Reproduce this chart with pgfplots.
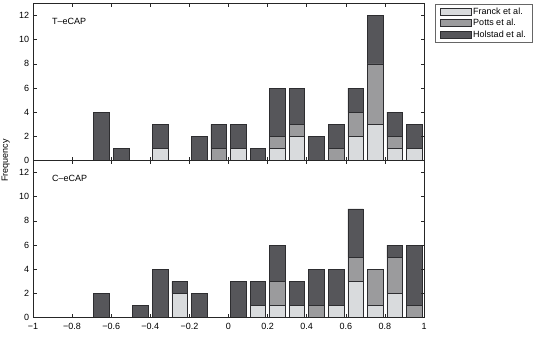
\documentclass[border=0pt]{standalone}
\usepackage{fontspec}
\setmainfont{Liberation Sans}
\usepackage{pgfplots}
\pgfplotsset{compat=1.18}
\usepackage{pgfplotstable}

\definecolor{franck}{RGB}{217,219,221}
\definecolor{potts}{RGB}{155,155,157}
\definecolor{holstad}{RGB}{86,86,90}
\definecolor{edge}{RGB}{45,45,48}

% Counts per correlation bin (bin centres, width 0.1)
\pgfplotstableread{
x      F P H
-0.95  0 0 0
-0.85  0 0 0
-0.75  0 0 0
-0.65  0 0 4
-0.55  0 0 1
-0.45  0 0 0
-0.35  1 0 2
-0.25  0 0 0
-0.15  0 0 2
-0.05  0 1 2
0.05   1 0 2
0.15   0 0 1
0.25   1 1 4
0.35   2 1 3
0.45   0 0 2
0.55   0 1 2
0.65   2 2 2
0.75   3 5 4
0.85   1 1 2
0.95   1 0 2
}\teCAP

\pgfplotstableread{
x      F P H
-0.95  0 0 0
-0.85  0 0 0
-0.75  0 0 0
-0.65  0 0 2
-0.55  0 0 0
-0.45  0 0 1
-0.35  0 0 4
-0.25  2 0 1
-0.15  0 0 2
-0.05  0 0 0
0.05   0 0 3
0.15   1 0 2
0.25   1 2 3
0.35   1 0 2
0.45   0 1 3
0.55   1 0 3
0.65   3 2 4
0.75   1 3 0
0.85   2 3 1
0.95   0 1 5
}\ceCAP

\newcommand{\lblfont}{\fontsize{9}{10}\selectfont}

\pgfplotsset{
  hist/.style={
    scale only axis, width=391pt, height=157pt,
    xmin=-1, xmax=1, ymin=0, ymax=13,
    ybar stacked, bar width=0.08,
    xtick={-1,-0.8,-0.6,-0.4,-0.2,0,0.2,0.4,0.6,0.8,1},
    ytick={0,2,4,6,8,10,12},
    tick align=inside, major tick length=3.5pt,
    axis line style={line width=0.5pt, black!85},
    every tick/.style={line width=0.5pt, black!85},
    axis on top,
    tick label style={font=\lblfont},
    /pgf/number format/assume math mode=true,
    yticklabel style={inner sep=0pt, xshift=-3.7pt},
    xticklabel style={inner sep=0pt, yshift=-5.6pt},
  },
  seg/.style={fill=#1, draw=edge, line width=0.5pt,
    legend image code/.code={\draw[##1] (0pt,-3.5pt) rectangle (31pt,3.5pt);}},
}

\begin{document}
\begin{tikzpicture}
\path[use as bounding box] (0pt,0pt) rectangle (540pt,-340pt);

% T-eCAP panel
\begin{axis}[hist, at={(33pt,-160.5pt)}, anchor=south west,
    xticklabels={},
    legend cell align=left,
    legend style={at={(1.0281,0.995)}, anchor=north west,
      draw=black!60, line width=0.5pt, inner xsep=4.7pt, inner ysep=1.2pt,
      nodes={inner sep=1.8pt, text depth=0.15em}, font=\lblfont},
  ]
  \addplot[seg=franck]  table[x=x, y=F] {\teCAP};
  \addplot[seg=potts]   table[x=x, y=P] {\teCAP};
  \addplot[seg=holstad] table[x=x, y=H] {\teCAP};
  \addlegendentry{\makebox[53pt][l]{Franck et al.}}
  \addlegendentry{\makebox[53pt][l]{Potts et al.}}
  \addlegendentry{\makebox[53pt][l]{Holstad et al.}}
  \node[anchor=west, inner sep=0pt, font=\lblfont] at (axis cs:-0.903,11.5) {T–eCAP};
\end{axis}

% C-eCAP panel
\begin{axis}[hist, at={(33pt,-160.5pt)}, anchor=north west,
    xticklabels={−1,−0.8,−0.6,−0.4,−0.2,0,0.2,0.4,0.6,0.8,1},
  ]
  \addplot[seg=franck]  table[x=x, y=F] {\ceCAP};
  \addplot[seg=potts]   table[x=x, y=P] {\ceCAP};
  \addplot[seg=holstad] table[x=x, y=H] {\ceCAP};
  \node[anchor=west, inner sep=0pt, font=\lblfont] at (axis cs:-0.903,11.5) {C–eCAP};
  \node[anchor=north, inner sep=0pt, font=\lblfont] at (rel axis cs:0.5,0) [yshift=-13pt] {Correlation coefficient (\textit{r})};
\end{axis}

\node[rotate=90, anchor=base, inner sep=0pt, font=\lblfont] at (8pt,-160.5pt) {Frequency};
\end{tikzpicture}
\end{document}
